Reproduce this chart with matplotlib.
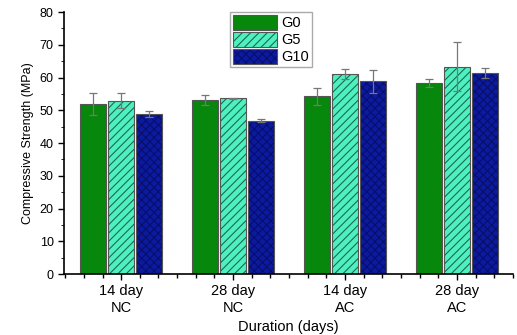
import numpy as np
import matplotlib
matplotlib.use("Agg")
import matplotlib.pyplot as plt
from matplotlib.ticker import MultipleLocator

plt.rcParams['font.family'] = ['Liberation Sans', 'DejaVu Sans']
plt.rcParams['hatch.linewidth'] = 0.8

# Data
groups = ["14 day\nNC", "28 day\nNC", "14 day\nAC", "28 day\nAC"]
series = ["G0", "G5", "G10"]
g0 = [52.0, 53.1, 54.3, 58.4]
g5 = [52.9, 53.7, 61.1, 63.3]
g10 = [48.9, 46.8, 58.9, 61.5]
g0_err = [3.3, 1.6, 2.6, 1.2]
g5_err = [2.3, 0.2, 1.4, 7.5]
g10_err = [0.8, 0.4, 3.5, 1.5]

colors = ['#07870b', '#4ff0c0', '#0d1aa0']
hatches = [None, '////', 'xxxx']
hatch_colors = [None, '#1a6a50', '#06106a']

fig = plt.figure(figsize=(5.17, 3.35), dpi=100)
ax = fig.add_axes([0.124, 0.182, 0.868, 0.782])

x = np.arange(len(groups))
w = 0.235
for i, (vals, errs) in enumerate(zip([g0, g5, g10], [g0_err, g5_err, g10_err])):
    bars = ax.bar(x + (i - 1) * 0.25, vals, w, color=colors[i], label=series[i],
                  edgecolor='#555555', linewidth=0.8, zorder=2)
    if hatches[i]:
        for b in bars:
            b.set_hatch(hatches[i])
            b._hatch_color = matplotlib.colors.to_rgba(hatch_colors[i])
    ax.errorbar(x + (i - 1) * 0.25, vals, yerr=errs, fmt='none', ecolor='#777777',
                elinewidth=0.9, capsize=3, capthick=0.9, zorder=3)

ax.set_xlim(-0.51, 3.5)
ax.set_ylim(0, 80)
ax.set_xticks(x)
ax.set_xticklabels(groups, fontsize=10.5)
ax.xaxis.set_minor_locator(MultipleLocator(1 / 6))
ax.yaxis.set_major_locator(MultipleLocator(10))
ax.yaxis.set_minor_locator(MultipleLocator(5))
ax.tick_params(axis='y', labelsize=9, width=1, length=4)
ax.tick_params(axis='y', which='minor', length=2.5)
ax.tick_params(axis='x', which='major', length=4, width=1)
ax.tick_params(axis='x', which='minor', length=3, width=1)
for s in ['top', 'right']:
    ax.spines[s].set_visible(False)
for s in ['left', 'bottom']:
    ax.spines[s].set_linewidth(1.2)

ax.set_ylabel("Compressive Strength (MPa)", fontsize=9)
ax.set_xlabel("Duration (days)", fontsize=10.5)

leg = ax.legend(loc='upper left', bbox_to_anchor=(0.37, 1.0), fontsize=10.5,
                handlelength=3.0, handleheight=1.2, labelspacing=0.1,
                borderpad=0.2, handletextpad=0.3, borderaxespad=0.0,
                fancybox=False, edgecolor='#aaaaaa', framealpha=1)

fig.savefig("out.png", dpi=100)
